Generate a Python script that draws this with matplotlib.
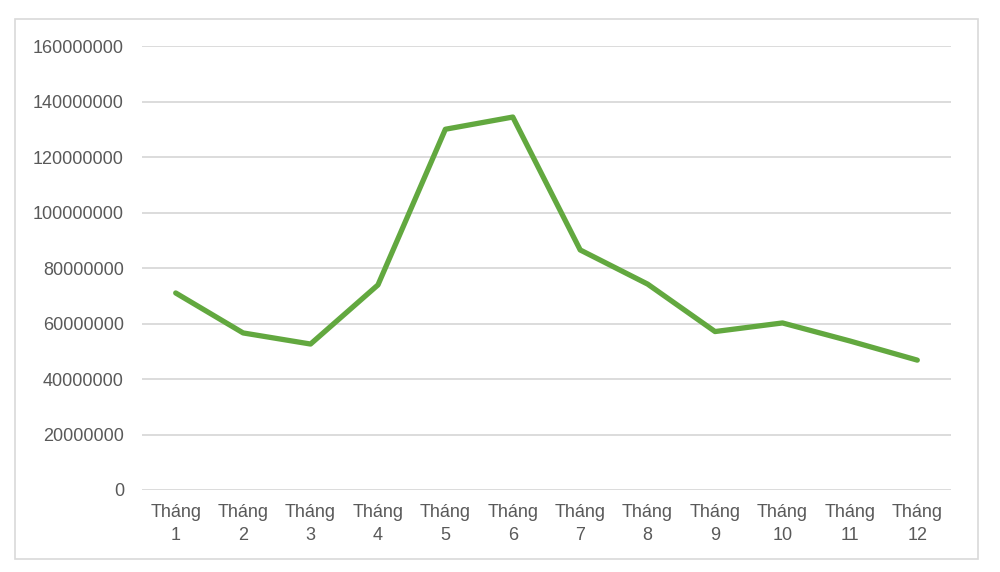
import matplotlib
matplotlib.use("Agg")
import matplotlib.pyplot as plt
from matplotlib.patches import Rectangle

months = ["Tháng\n1", "Tháng\n2", "Tháng\n3", "Tháng\n4", "Tháng\n5", "Tháng\n6",
          "Tháng\n7", "Tháng\n8", "Tháng\n9", "Tháng\n10", "Tháng\n11", "Tháng\n12"]
values = [71000000, 56600000, 52600000, 73900000, 130000000, 134400000,
          86500000, 74200000, 57100000, 60200000, 53700000, 46800000]
yticks = [0, 20000000, 40000000, 60000000, 80000000, 100000000,
          120000000, 140000000, 160000000]

plt.rcParams['font.family'] = ['Liberation Sans', 'DejaVu Sans']

fig = plt.figure(figsize=(10, 5.72), dpi=100)
# light grey chart frame
fig.patches.append(Rectangle((15 / 1000, 1 - 559 / 572), 963 / 1000, 540 / 572,
                             transform=fig.transFigure, fill=False,
                             edgecolor='#d9d9d9', linewidth=1.2))

ax = fig.add_axes([142 / 1000, 1 - 490 / 572, 809 / 1000, 444 / 572])
x = list(range(1, len(values) + 1))
ax.plot(x, values, color='#62a83f', linewidth=3.8, solid_joinstyle='round',
        solid_capstyle='round', zorder=3)

ax.set_xlim(0.5, 12.5)
ax.set_ylim(0, 160000000)
ax.set_yticks(yticks)
ax.set_yticklabels([str(v) for v in yticks])
ax.set_xticks(x)
ax.set_xticklabels(months, linespacing=1.45)
ax.grid(axis='y', color='#d9d9d9', linewidth=1.3)
ax.set_axisbelow(True)
for s in ax.spines.values():
    s.set_visible(False)
ax.tick_params(axis='y', length=0, pad=13, labelsize=13, labelcolor='#595959')
ax.tick_params(axis='x', length=0, pad=10, labelsize=13, labelcolor='#595959')

fig.savefig("out.png", dpi=100)
